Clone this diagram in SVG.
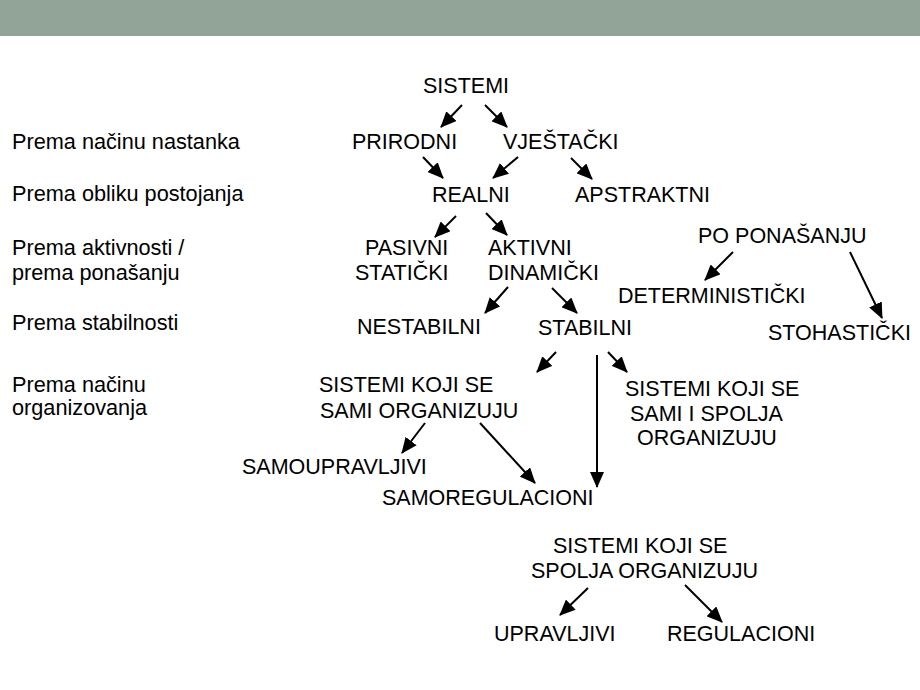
<svg xmlns="http://www.w3.org/2000/svg" width="920" height="690" viewBox="0 0 920 690">
<defs>
<style>
text{font-family:"Liberation Sans",Arial,sans-serif;font-size:21.5px;fill:#000}
#labels text{font-size:21.7px}
.c line{stroke:#000;stroke-width:2;marker-end:url(#ah)}
</style>
<marker id="ah" markerUnits="userSpaceOnUse" markerWidth="16" markerHeight="14" refX="15" refY="7" orient="auto">
<path d="M0,0 L16,7 L0,14 z" fill="#000"/>
</marker>
</defs>
<rect width="920" height="690" fill="#fff"/>
<rect id="header" x="0" y="0" width="920" height="36" fill="#92a397"/>
<g id="labels">
<text x="12" y="149">Prema načinu nastanka</text>
<text x="12" y="201">Prema obliku postojanja</text>
<text x="12" y="255">Prema aktivnosti /</text>
<text x="12" y="280">prema ponašanju</text>
<text x="12" y="330">Prema stabilnosti</text>
<text x="12" y="392">Prema načinu</text>
<text x="12" y="415">organizovanja</text>
</g>
<g id="sistemi"><text x="423" y="93">SISTEMI</text></g>
<g id="prirodni"><text x="352" y="149">PRIRODNI</text></g>
<g id="vjestacki"><text x="503" y="149">VJEŠTAČKI</text></g>
<g id="realni"><text x="432" y="202">REALNI</text></g>
<g id="apstraktni"><text x="575" y="202">APSTRAKTNI</text></g>
<g id="pasivni"><text x="365" y="255">PASIVNI</text><text x="355" y="280">STATIČKI</text></g>
<g id="aktivni"><text x="488" y="255">AKTIVNI</text><text x="488" y="280">DINAMIČKI</text></g>
<g id="poponasanju"><text x="698" y="243">PO PONAŠANJU</text></g>
<g id="deterministicki"><text x="618" y="303">DETERMINISTIČKI</text></g>
<g id="stohasticki"><text x="768" y="340">STOHASTIČKI</text></g>
<g id="nestabilni"><text x="357" y="334">NESTABILNI</text></g>
<g id="stabilni"><text x="538" y="335">STABILNI</text></g>
<g id="sami"><text x="319" y="392">SISTEMI KOJI SE</text><text x="320" y="418">SAMI ORGANIZUJU</text></g>
<g id="samispolja"><text x="625" y="396">SISTEMI KOJI SE</text><text x="630" y="421">SAMI I SPOLJA</text><text x="637" y="445">ORGANIZUJU</text></g>
<g id="samoupravljivi"><text x="242" y="474">SAMOUPRAVLJIVI</text></g>
<g id="samoregulacioni"><text x="382" y="505">SAMOREGULACIONI</text></g>
<g id="spolja"><text x="553" y="553">SISTEMI KOJI SE</text><text x="531" y="578">SPOLJA ORGANIZUJU</text></g>
<g id="upravljivi"><text x="494" y="641">UPRAVLJIVI</text></g>
<g id="regulacioni"><text x="667" y="641">REGULACIONI</text></g>
<g id="connectors" class="c">
<line x1="462" y1="105" x2="441" y2="127"/>
<line x1="485" y1="105" x2="507" y2="127"/>
<line x1="423" y1="157" x2="443" y2="178"/>
<line x1="518" y1="157" x2="493" y2="178"/>
<line x1="571" y1="158" x2="592" y2="179"/>
<line x1="456" y1="216" x2="435" y2="237"/>
<line x1="486" y1="213" x2="507" y2="235"/>
<line x1="508" y1="287" x2="485" y2="313"/>
<line x1="552" y1="288" x2="577" y2="313"/>
<line x1="733" y1="252" x2="705" y2="280"/>
<line x1="850" y1="252" x2="882" y2="318"/>
<line x1="556" y1="352" x2="537" y2="372"/>
<line x1="597" y1="355" x2="597" y2="487"/>
<line x1="608" y1="352" x2="627" y2="372"/>
<line x1="425" y1="423" x2="402" y2="453"/>
<line x1="480" y1="423" x2="535" y2="483"/>
<line x1="588" y1="588" x2="560" y2="615"/>
<line x1="685" y1="585" x2="722" y2="622"/>
</g>
</svg>
